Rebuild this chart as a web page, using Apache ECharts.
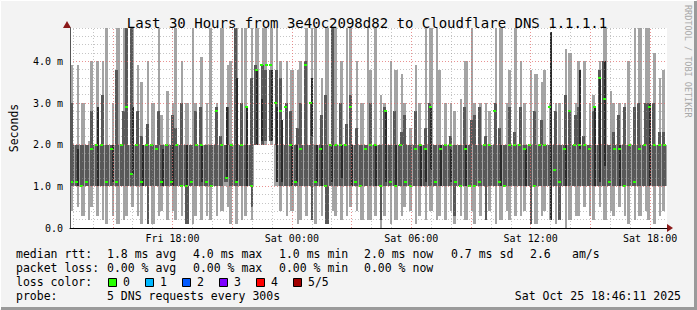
<!DOCTYPE html>
<html><head><meta charset="utf-8">
<script src="https://cdn.jsdelivr.net/npm/echarts@6/dist/echarts.min.js"></script>
<style>html,body{margin:0;padding:0;background:#f3f3f3}#c{width:697px;height:310px}</style>
</head><body><div id="c"></div>
<script>
// time axis in hours since Fri 00:00
const startHour = 12.85;
const stepHours = 0.25;
const spanHours = 30;

// smoke: light band (outer pings), medium band (inner pings), dark streaks, median
const lightLo = [0.4,0.5,0.3,0.2,0.5,0.3,0.2,0.1,0.3,0.1,0.2,0.3,0.5,0.3,0.1,0.2,0.1,0.3,0.4,0.2,0.4,0.2,0.3,0.1,0.1,0.3,0.2,0.3,0.2,0.3,
  0.4,0.5,0.1,0.1,0.2,0.3,0.2,2.0,2.0,2.0,2.0,1.0,0.4,0.3,0.4,0.1,0.2,0.3,0.5,0.1,0.3,0.3,0.4,0.3,0.2,0.3,0.5,0.4,0.2,0.2,
  0.2,0.3,0.0,0.3,0.1,0.2,0.3,0.5,0.4,0.1,0.3,0.2,0.4,0.2,0.3,0.2,0.4,0.1,0.3,0.2,0.4,0.1,0.3,0.2,0.4,0.1,0.2,0.4,0.2,0.3,
  0.3,0.4,0.2,0.1,0.3,0.4,0.2,0.1,0.2,0.0,0.2,0.3,0.3,0.5,0.3,0.2,0.5,0.2,0.4,0.3,0.5,0.3,0.1,0.2,0.3,0.4,0.2,0.1,0.3,0.4];
const lightHi = [3.9,3.9,3.0,2.1,4.0,4.0,4.0,4.8,3.0,4.8,4.8,4.8,4.8,3.9,3.5,4.0,3.0,4.8,2.7,3.3,3.0,4.8,4.0,3.0,4.8,3.0,4.1,3.0,4.8,3.0,
  4.8,3.9,4.0,4.8,4.8,4.8,4.8,4.8,4.8,4.8,4.8,4.8,4.0,4.0,3.8,3.8,4.0,4.8,4.8,4.8,3.6,4.8,4.8,4.8,4.0,4.8,4.8,4.0,3.0,4.8,
  3.8,4.8,3.2,3.0,4.0,3.8,3.7,3.0,2.4,3.9,3.0,4.8,4.8,4.8,3.8,3.0,3.0,2.8,3.1,4.0,4.8,3.0,3.0,3.0,2.8,4.8,4.8,3.0,3.8,4.8,
  4.0,3.0,3.8,3.7,3.5,3.8,3.0,3.0,3.0,4.3,4.2,3.0,4.0,4.0,3.0,3.2,4.0,4.8,3.3,3.0,3.0,3.0,4.0,4.8,4.8,4.8,4.8,4.2,3.6,3.8];
const medLo = [1.0,1.0,1.0,1.0,1.0,1.0,1.0,1.0,1.0,1.0,1.0,1.0,1.0,1.0,1.0,0.1,1.0,1.0,1.0,1.0,1.0,1.0,1.0,0.1,1.0,1.0,1.0,1.0,1.0,1.0,
  1.0,1.1,1.0,1.0,1.0,1.0,0.5,2.0,2.0,2.1,2.1,2.0,1.0,1.0,1.0,1.0,1.0,1.0,0.2,1.0,1.0,0.1,1.0,1.0,1.0,1.0,1.0,1.0,1.0,1.0,
  1.0,1.0,0.2,1.0,1.0,1.0,1.0,1.0,1.0,1.0,1.0,1.0,1.0,1.0,1.0,1.0,1.0,0.3,1.0,1.0,1.0,1.0,1.0,0.2,1.0,1.0,1.0,1.0,1.0,1.0,
  1.0,1.0,0.1,1.0,1.0,1.0,1.0,1.0,0.2,1.0,1.0,1.0,1.0,1.0,1.0,1.0,1.0,1.0,1.0,1.0,1.0,1.0,1.0,1.0,1.0,1.0,1.0,1.0,1.0,1.0];
const medHi = [3.0,2.0,2.0,2.0,2.8,2.0,3.2,2.0,2.0,3.8,2.8,4.8,4.8,2.8,2.2,2.5,2.0,2.8,2.0,2.0,2.7,2.4,3.0,2.0,2.0,2.8,2.9,2.0,2.0,2.9,
  2.2,2.9,2.0,4.8,3.0,2.0,3.6,3.9,3.9,3.8,3.8,3.8,3.6,3.0,2.8,2.4,3.0,4.0,3.0,2.0,2.7,3.2,4.8,2.0,3.0,2.5,3.2,2.4,2.0,2.0,
  3.0,2.0,2.0,2.9,2.0,2.8,2.3,2.7,2.0,2.8,2.0,2.4,3.0,2.0,2.0,2.0,2.2,2.0,2.0,2.9,2.6,2.7,2.9,2.2,2.0,3.0,2.4,2.0,2.9,2.3,
  2.9,2.0,2.0,2.8,2.6,2.0,2.0,2.8,2.0,3.2,2.8,2.7,2.9,2.2,2.0,2.8,3.8,4.0,2.0,2.3,2.7,2.9,2.0,2.9,3.0,3.0,3.0,3.0,2.3,2.3];
const darkLo = [null,1.0,null,null,null,1.0,null,null,1.1,null,null,null,1.3,null,1.0,null,null,null,1.0,null,1.0,null,null,1.0,null,null,1.1,null,null,null,
  null,1.2,null,1.1,null,1.0,null,2.0,2.1,null,2.1,1.1,1.1,null,1.0,1.1,null,null,2.2,1.1,1.0,null,1.1,null,1.2,null,1.0,null,null,null,
  null,1.0,null,1.1,null,1.0,null,null,null,null,1.0,1.1,1.4,null,1.0,null,1.1,null,null,1.0,null,null,null,null,null,null,1.0,null,null,null,
  null,1.0,null,null,null,null,0.2,null,null,1.0,null,null,1.9,null,null,1.0,1.1,1.5,null,null,1.0,null,null,null,null,null,1.0,null,null,null];
const darkHi = [null,1.9,null,null,null,2.9,null,null,2.0,null,null,null,2.9,null,2.0,null,null,null,1.9,null,2.0,null,null,2.0,null,null,2.0,null,null,null,
  null,2.9,null,3.6,null,2.9,null,3.8,3.1,null,3.8,2.9,2.6,null,2.0,2.0,null,null,3.6,2.0,2.0,null,2.0,null,2.0,null,2.0,null,null,null,
  null,2.0,null,2.8,null,2.0,null,null,null,null,2.0,1.9,2.9,null,2.0,null,1.9,null,null,2.0,null,null,null,null,null,null,2.0,null,null,null,
  null,1.9,null,null,null,null,4.7,null,null,2.0,null,null,3.8,null,null,2.9,3.6,4.0,null,null,2.0,null,null,null,null,null,3.0,null,null,null];
const median = [1.1,1.1,1.0,1.1,1.9,2.0,2.0,1.1,1.9,1.1,2.0,2.9,1.3,2.0,1.1,2.0,2.0,1.9,1.1,2.0,1.1,2.0,1.0,1.0,1.1,2.0,2.0,1.1,1.0,2.8,
  2.0,1.2,2.0,1.1,2.0,2.9,1.0,3.8,3.9,3.9,3.9,3.0,2.8,2.9,2.0,1.1,1.9,3.9,3.0,1.1,1.9,1.0,2.0,2.0,2.0,2.0,2.9,1.1,1.0,1.9,
  2.0,2.0,1.0,2.8,1.1,1.0,2.0,1.1,1.0,1.9,2.0,1.9,2.9,1.1,1.9,2.0,2.0,1.1,1.0,1.9,1.0,1.0,1.1,2.0,2.0,2.8,1.1,1.0,2.0,2.0,
  2.0,1.9,2.0,1.0,2.0,2.0,2.9,1.4,1.1,1.9,2.8,2.0,2.0,2.0,1.9,2.9,3.6,3.1,1.1,1.9,1.9,1.0,2.0,1.1,1.9,2.0,2.9,2.0,2.0,2.0];

// axes
const yTickValues = [0, 1, 2, 3, 4];
const yTickLabels = ['0.0', '1.0 m', '2.0 m', '3.0 m', '4.0 m'];
const xTickValues = [18, 24, 30, 36, 42];
const xTickLabels = ['Fri 18:00', 'Sat 00:00', 'Sat 06:00', 'Sat 12:00', 'Sat 18:00'];
const xMajorGrid = [15, 18, 21, 24, 27, 30, 33, 36, 39, 42];
const xMinorGrid = [13, 14, 16, 17, 19, 20, 22, 23, 25, 26, 28, 29, 31, 32, 34, 35, 37, 38, 40, 41];
const yMajorGrid = [1, 2, 3, 4];
const yMinorGrid = [0.2, 0.4, 0.6, 0.8, 1.2, 1.4, 1.6, 1.8, 2.2, 2.4, 2.6, 2.8, 3.2, 3.4, 3.6, 3.8, 4.2, 4.4, 4.6, 4.8];

// legend
const lossColors = ['#26ff00', '#00b8ff', '#0059ff', '#7e00ff', '#ff0000', '#a10000'];
const lossLabels = ['0', '1', '2', '3', '4', '5/5'];
const rttLine = ['median rtt:', '1.8 ms avg', '4.0 ms max', '1.0 ms min', '2.0 ms now', '0.7 ms sd', '2.6', 'am/s'];
const lossLine = ['packet loss:', '0.00 % avg', '0.00 % max', '0.00 % min', '0.00 % now'];
const probeLine = ['probe:', '5 DNS requests every 300s'];
const stampText = 'Sat Oct 25 18:46:11 2025';
const titleText = 'Last 30 Hours from 3e40c2098d82 to Cloudflare DNS 1.1.1.1';

const LIGHT = '#a4a4a4', MED = '#585858', DARK = '#2a2a2a', MEDIAN = '#26ff00';
const FONT = 'DejaVu Sans Mono';
// rendering of the smoke spikes (pixel style only)
const SPIKE_OFFSET = [0, 2, 1, 3, 0, 1, 2];
const SPIKE_WIDTH = [3, 2, 4, 2, 3, 3, 2];

const smokeData = lightLo.map((v, i) => {
  const t0 = startHour + i * stepHours;
  return [t0, t0 + stepHours, v, lightHi[i], medLo[i], medHi[i],
          darkLo[i] == null ? 0 : darkLo[i], darkHi[i] == null ? 0 : darkHi[i]];
});
const medianData = median.map((v, i) => [startHour + (i + 0.5) * stepHours, v]);

function renderSmoke(params, api) {
  const t0 = api.value(0), t1 = api.value(1);
  const x0 = Math.round(api.coord([t0, 0])[0]);
  const x1 = Math.round(api.coord([t1, 0])[0]);
  const yv = v => Math.round(api.coord([t0, v])[1]);
  const children = [];
  const box = (xa, xb, v0, v1, fill) => {
    if (v1 <= v0) return;
    const ya = yv(v1), yb = yv(v0);
    if (yb - ya <= 0 || xb <= xa) return;
    children.push({type: 'rect', shape: {x: xa, y: ya, width: xb - xa, height: yb - ya}, style: {fill: fill}});
  };
  const k = params.dataIndex % SPIKE_WIDTH.length;
  const sx0 = Math.min(x0 + SPIKE_OFFSET[k], x1 - SPIKE_WIDTH[k]);
  const sx1 = sx0 + SPIKE_WIDTH[k];
  const lLo = api.value(2), lHi = api.value(3), mLo = api.value(4), mHi = api.value(5);
  // light: full width inside the 1–2 ms core, spikes outside it
  box(x0, x1, Math.max(lLo, 1.0), Math.min(lHi, 2.0), LIGHT);
  box(sx0, sx1, lLo, Math.min(lHi, 1.0), LIGHT);
  box(sx0, sx1, Math.max(lLo, 2.0), lHi, LIGHT);
  // medium
  const cLo = Math.max(mLo, 1.0), cHi = Math.min(mHi, 2.0);
  box(x0, x1 - 1, cLo, cHi, MED);
  const ux0 = Math.max(x0, sx0 - 1);
  box(ux0, Math.min(x1, ux0 + 3), Math.max(cHi, mLo), mHi, MED);
  box(sx0, sx1, mLo, Math.min(cLo, mHi), MED);
  const dl = api.value(6), dh = api.value(7);
  box(x0 + 2, x0 + 4, dl, dh, DARK);
  return {type: 'group', children: children};
}
function renderMedian(params, api) {
  const p = api.coord([api.value(0), api.value(1)]);
  return {type: 'rect', shape: {x: Math.round(p[0]) - 2, y: Math.round(p[1]) - 1, width: 3, height: 2}, style: {fill: MEDIAN}};
}

const gridLines = [].concat(
  yMinorGrid.map(v => ({yAxis: v, lineStyle: {color: 'rgba(150,150,150,0.55)'}})),
  xMinorGrid.map(v => ({xAxis: v, lineStyle: {color: 'rgba(150,150,150,0.55)'}})),
  yMajorGrid.map(v => ({yAxis: v, lineStyle: {color: 'rgba(225,110,110,0.75)'}})),
  xMajorGrid.map(v => ({xAxis: v, lineStyle: {color: 'rgba(225,110,110,0.75)'}}))
);

const txt = (x, y, text, extra) => Object.assign({
  type: 'text', x: x, y: y, silent: true,
  style: {text: text, fill: '#000', font: '11.5px "' + FONT + '"', verticalAlign: 'middle', align: 'left'}
}, extra || {});

const graphics = [
  {type: 'polyline', shape: {points: [[0.5, 309], [0.5, 0.5], [696, 0.5]]}, style: {stroke: '#ffffff', lineWidth: 1, fill: null}, silent: true},
  {type: 'polyline', shape: {points: [[1, 308.5], [695.5, 308.5], [695.5, 1]]}, style: {stroke: '#9a9a9a', lineWidth: 3, fill: null}, silent: true},
  // axis arrows
  {type: 'polygon', shape: {points: [[667, 224], [673, 228], [667, 232]]}, style: {fill: '#8b1a1a'}, silent: true},
  {type: 'polygon', shape: {points: [[63, 28], [67, 21], [71, 28]]}, style: {fill: '#8b1a1a'}, silent: true},
  txt(688, 5, 'RRDTOOL / TOBI OETIKER', {rotation: -Math.PI / 2, style: {text: 'RRDTOOL / TOBI OETIKER', fill: '#a8a8a8', font: '8.5px "' + FONT + '"', verticalAlign: 'middle', align: 'left'}})
];
const rttX = [16, 107, 193, 279, 364, 451, 530, 572];
rttLine.forEach((t, i) => graphics.push(txt(rttX[i], 254, t)));
lossLine.forEach((t, i) => graphics.push(txt(rttX[i], 268, t)));
graphics.push(txt(16, 282, 'loss color:'));
lossColors.forEach((c, i) => {
  const bx = 108 + i * 37;
  graphics.push({type: 'rect', shape: {x: bx + 0.5, y: 278.5, width: 8, height: 8}, style: {fill: c, stroke: '#000', lineWidth: 1}, silent: true});
  graphics.push(txt(bx + 15, 282, lossLabels[i]));
});
graphics.push(txt(16, 296, probeLine[0]));
graphics.push(txt(107, 296, probeLine[1]));
graphics.push(txt(681, 296, stampText, {style: {text: stampText, fill: '#000', font: '11.5px "' + FONT + '"', verticalAlign: 'middle', align: 'right'}}));

const chart = echarts.init(document.getElementById('c'), null, {renderer: 'svg'});
chart.setOption({
  animation: false,
  backgroundColor: '#f3f3f3',
  title: {
    text: titleText, left: 362, top: 11, textAlign: 'center',
    textStyle: {fontFamily: FONT, fontSize: 14, fontWeight: 'normal', color: '#000'}
  },
  grid: {left: 67, top: 28, width: 600, height: 200, show: true, backgroundColor: '#ffffff', borderWidth: 0},
  xAxis: {
    type: 'value', min: startHour, max: startHour + spanHours, z: 10,
    axisLine: {show: true, lineStyle: {color: '#000', width: 1}},
    axisTick: {show: false},
    splitLine: {show: false},
    axisLabel: {
      customValues: xTickValues, margin: 5, color: '#000', fontFamily: FONT, fontSize: 10,
      formatter: v => { const i = xTickValues.indexOf(Math.round(v * 1000) / 1000); return i >= 0 ? xTickLabels[i] : ''; }
    }
  },
  yAxis: {
    type: 'value', min: 0, max: 4.8, z: 10,
    name: 'Seconds', nameLocation: 'middle', nameGap: 50, nameRotate: 90,
    nameTextStyle: {fontFamily: FONT, fontSize: 11.5, color: '#000'},
    axisLine: {show: true, lineStyle: {color: '#555', width: 1}},
    axisTick: {show: false},
    splitLine: {show: false},
    axisLabel: {
      customValues: yTickValues, margin: 7, color: '#000', fontFamily: FONT, fontSize: 10,
      formatter: v => { const i = yTickValues.indexOf(Math.round(v * 1000) / 1000); return i >= 0 ? yTickLabels[i] : ''; }
    }
  },
  series: [
    {type: 'custom', name: 'smoke', data: smokeData, renderItem: renderSmoke, z: 2, silent: true,
     encode: {x: [0, 1], y: [2, 3]}},
    {type: 'line', name: 'grid', data: [], z: 3, silent: true, showSymbol: false,
     markLine: {silent: true, symbol: ['none', 'none'], label: {show: false}, animation: false,
       lineStyle: {type: [1, 2], width: 1}, data: gridLines}},
    {type: 'custom', name: 'median', data: medianData, renderItem: renderMedian, z: 4, silent: true,
     encode: {x: 0, y: 1}}
  ],
  graphic: graphics
});
</script>
</body></html>
